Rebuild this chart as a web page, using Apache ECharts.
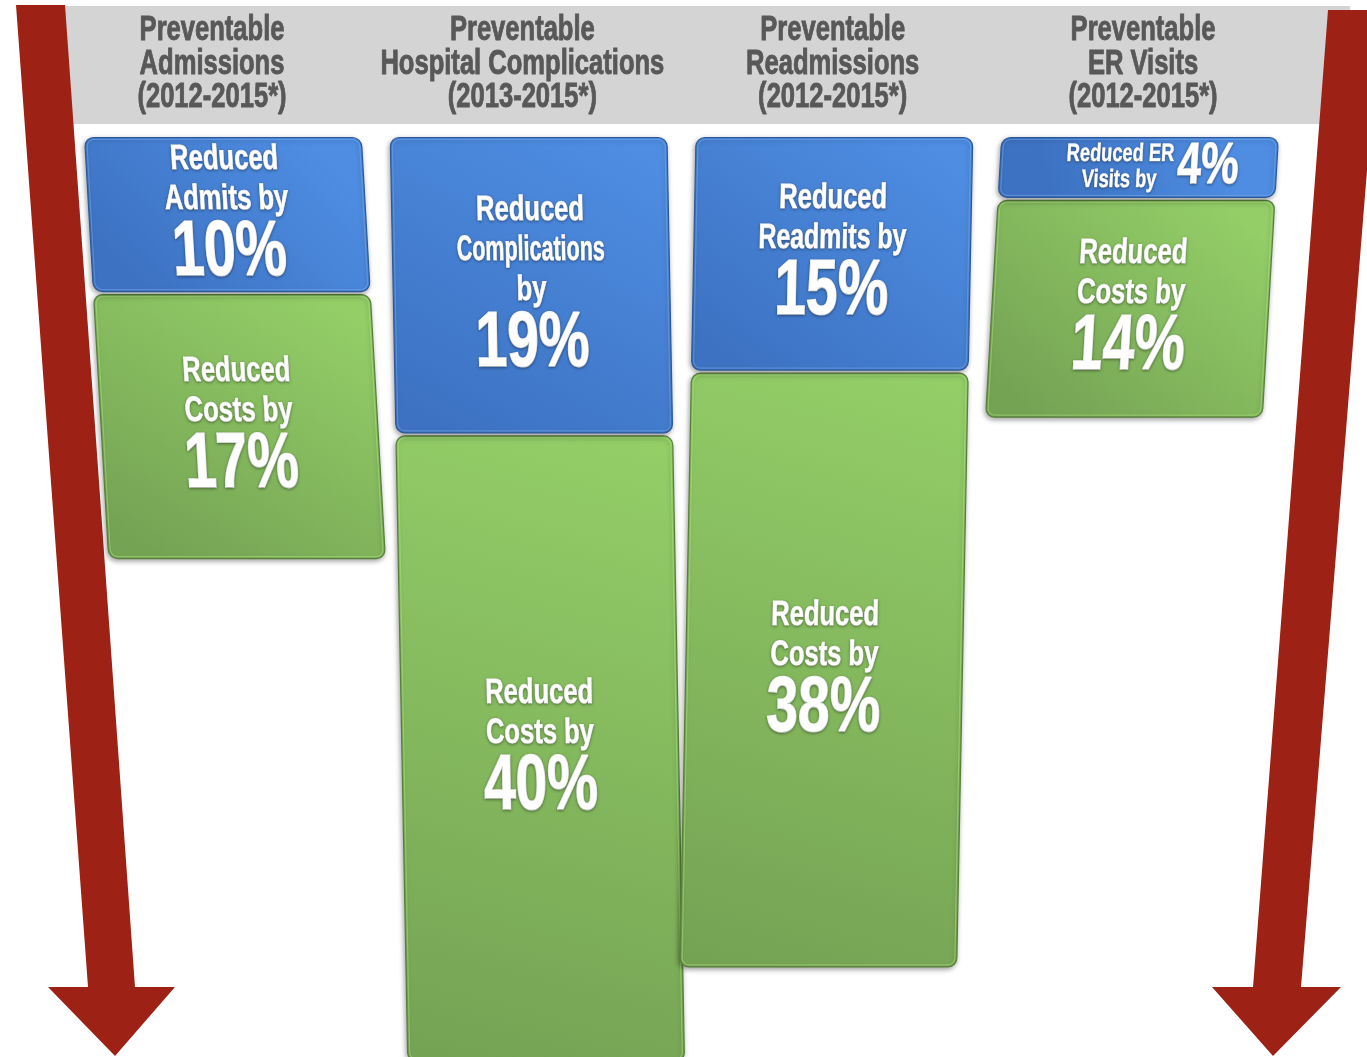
<!DOCTYPE html>
<html>
<head>
<meta charset="utf-8">
<script src="https://cdn.jsdelivr.net/npm/echarts@6/dist/echarts.min.js"></script>
<style>
  html, body { margin: 0; padding: 0; background: #ffffff; }
  #chart { width: 1367px; height: 1057px; }
</style>
</head>
<body>
<div id="chart"></div>
<script>
// Category headings (one per column)
const categories = [
  'Preventable\nAdmissions\n(2012-2015*)',
  'Preventable\nHospital Complications\n(2013-2015*)',
  'Preventable\nReadmissions\n(2012-2015*)',
  'Preventable\nER Visits\n(2012-2015*)'
];
// Reduction in events (blue, top segment), percent
const eventReduction = [10, 19, 15, 4];
// Reduction in costs (green, lower segment), percent
const costReduction = [17, 40, 38, 14];
// Wording shown above each percentage
const eventLabels = ['Reduced\nAdmits by', 'Reduced\nComplications\nby', 'Reduced\nReadmits by', 'Reduced ER\nVisits by'];
const costLabels = ['Reduced\nCosts by', 'Reduced\nCosts by', 'Reduced\nCosts by', 'Reduced\nCosts by'];

const FONT_FAMILY = '"Liberation Sans", Arial, Helvetica, sans-serif';
const SQUEEZE = 0.73;          // horizontal condensing of all lettering
const VANISH_X = 680;          // columns lean toward this x as they fall
const VANISH_DEPTH = 8000;
const HEADING_SPREAD = 1.015;  // headings sit slightly wider apart than the columns
const HEADING_SHIFT = -4;

const measureCtx = document.createElement('canvas').getContext('2d');
function textWidth(str, size) {
  measureCtx.font = 'bold ' + size + 'px ' + FONT_FAMILY;
  return measureCtx.measureText(str).width;
}

function textLine(str, x, y, size, color, maxW, weight, shadow) {
  let sx = SQUEEZE;
  const w = textWidth(str, size) * sx;
  if (maxW && w > maxW) sx = sx * maxW / w;
  const style = {
    text: str, x: 0, y: 0,
    align: 'center', verticalAlign: 'middle',
    font: 'bold ' + size + 'px ' + FONT_FAMILY,
    fill: color,
    stroke: color,
    lineWidth: weight || 1
  };
  if (shadow) {
    style.textShadowColor = 'rgba(0,0,0,0.35)';
    style.textShadowBlur = 3;
    style.textShadowOffsetX = 0;
    style.textShadowOffsetY = 1;
  }
  return { type: 'text', x: x, y: y, scaleX: sx, style: style };
}

function labelElements(text, amount, cx, cy, h) {
  const lines = text.split('\n');
  const big = amount + '%';
  const out = [];
  if (h < 110) {
    // short segment: wording stacked on the left, number beside it
    const sSize = 25, bSize = 58, pitch = 26, gap = 4;
    const sw = Math.max.apply(null, lines.map(l => textWidth(l, sSize))) * SQUEEZE;
    const bw = textWidth(big, bSize) * SQUEEZE;
    const left = cx - (sw + gap + bw) / 2 + 14;
    lines.forEach((l, k) => {
      out.push(textLine(l, left + sw / 2, cy + (k - (lines.length - 1) / 2) * pitch, sSize, '#ffffff', 0, 0.6, true));
    });
    out.push(textLine(big, left + sw + gap + bw / 2, cy, bSize, '#ffffff', 0, 1.4, true));
  } else {
    const sSize = 35, pitch = 40, bSize = 78, bigCap = 57;
    const n = lines.length;
    const H = n * pitch - 2 + bigCap;
    const t = cy - H / 2;
    lines.forEach((l, k) => {
      out.push(textLine(l, cx, t + k * pitch + 12.5, sSize, '#ffffff', 148, 0.9, true));
    });
    out.push(textLine(big, cx, t + n * pitch - 2 + bigCap / 2, bSize, '#ffffff', 0, 1.6, true));
  }
  return out;
}

const palettes = {
  blue: { top: '#4e8de2', bottom: '#3d72c2', stroke: '#2d5a9a', hi: '#7fb2f2' },
  green: { top: '#93ce67', bottom: '#75a354', stroke: '#587f3c', hi: '#b6ec86' }
};

function renderSegment(labels, pal) {
  return function (params, api) {
    const i = api.value(0);
    const from = api.value(1);
    const to = api.value(2);
    const amount = api.value(3);
    const p0 = api.coord([i, from]);
    const p1 = api.coord([i, to]);
    const origin = api.coord([i, 0]);
    const bandW = api.size([1, 0])[0];
    const w = bandW * 0.905;
    const cx = p0[0];
    const x = cx - w / 2;
    const y = p0[1] + 1.5;
    const h = p1[1] - p0[1] - 3;
    const fill = new echarts.graphic.LinearGradient(0.8, 0, 0.2, 1, [
      { offset: 0, color: pal.top },
      { offset: 1, color: pal.bottom }
    ]);
    const children = [
      {
        type: 'rect',
        shape: { x: x, y: y, width: w, height: h, r: 9 },
        style: {
          fill: fill, stroke: pal.stroke, lineWidth: 1.2,
          shadowBlur: 5, shadowOffsetX: -1, shadowOffsetY: 2, shadowColor: 'rgba(0,0,0,0.35)'
        }
      },
      {
        type: 'rect',
        shape: { x: x + 2, y: y + 2, width: w - 4, height: h - 4, r: 7 },
        style: { fill: 'none', stroke: pal.hi, lineWidth: 1.2, opacity: 0.45 }
      }
    ].concat(labelElements(labels[i], amount, cx, y + h / 2, h));
    return {
      type: 'group',
      originX: cx,
      originY: origin[1],
      skewX: Math.atan((VANISH_X - cx) / VANISH_DEPTH),
      children: children
    };
  };
}

function renderHeading(params, api) {
  const i = api.value(0);
  const cx = VANISH_X + (api.coord([i, 0])[0] - VANISH_X) * HEADING_SPREAD + HEADING_SHIFT;
  const lines = categories[i].split('\n');
  const ys = [30.5, 64.5, 97.5];
  return {
    type: 'group',
    children: lines.map((l, k) => textLine(l, cx, ys[k], 35, '#585858', 0, 0.9, false))
  };
}

const blueData = eventReduction.map((v, i) => [i, 0, v, v]);
const greenData = costReduction.map((v, i) => [i, eventReduction[i], eventReduction[i] + v, v]);

const chart = echarts.init(document.getElementById('chart'), null, { renderer: 'canvas' });

chart.setOption({
  animation: false,
  backgroundColor: '#ffffff',
  grid: { left: 70, right: 74, top: 136, bottom: 10 },
  xAxis: {
    type: 'category',
    data: categories,
    show: false
  },
  yAxis: {
    type: 'value',
    inverse: true,
    min: 0,
    max: 58,
    show: false
  },
  graphic: [
    {
      type: 'rect', z: 0,
      shape: { x: 30, y: 6, width: 1320, height: 118 },
      style: { fill: '#d4d4d4' }
    },
    {
      type: 'polygon', z: 1,
      shape: { points: [[16, 5], [65, 5], [135, 987], [175, 987], [115, 1056], [48, 987], [88, 987]] },
      style: { fill: '#9e2116' }
    },
    {
      type: 'polygon', z: 1,
      shape: { points: [[1328, 10], [1380, 10], [1301, 987], [1341, 987], [1273, 1056], [1212, 987], [1253, 987]] },
      style: { fill: '#9e2116' }
    }
  ],
  series: [
    {
      type: 'custom',
      name: 'Headings',
      z: 3,
      renderItem: renderHeading,
      data: categories.map((c, i) => [i, 0]),
      encode: { x: 0, y: 1 }
    },
    {
      type: 'custom',
      name: 'Costs',
      z: 4,
      renderItem: renderSegment(costLabels, palettes.green),
      data: greenData,
      encode: { x: 0, y: [1, 2] }
    },
    {
      type: 'custom',
      name: 'Events',
      z: 5,
      renderItem: renderSegment(eventLabels, palettes.blue),
      data: blueData,
      encode: { x: 0, y: [1, 2] }
    }
  ]
});
</script>
</body>
</html>
